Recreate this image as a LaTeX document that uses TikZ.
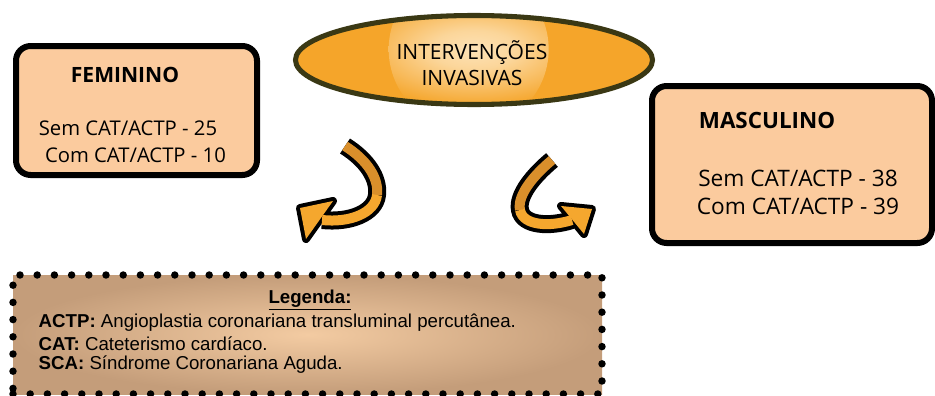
\documentclass[tikz,border=0pt]{standalone}
\usepackage{fontspec}
\setmainfont{Liberation Sans}
\newfontfamily\boxfont{Open Sans}
\usetikzlibrary{shapes.geometric}

\definecolor{peach}{HTML}{FBCB9E}
\definecolor{ovalorange}{HTML}{F5A52A}
\definecolor{ovallight}{HTML}{FDE2B6}
\definecolor{ovalrim}{HTML}{3A3814}
\definecolor{arrowdark}{HTML}{D98F2B}
\definecolor{arrowlight}{HTML}{F5A72E}
\definecolor{legtan}{HTML}{C49D7A}
\definecolor{legtanlight}{HTML}{F3CBA2}

\pgfdeclareradialshading{ovalglow}{\pgfpoint{0bp}{0bp}}{color(0bp)=(ovallight); color(6bp)=(ovallight!80!ovalorange); color(18bp)=(ovalorange); color(50bp)=(ovalorange)}

\begin{document}
\begin{tikzpicture}[x=0.75pt, y=-0.75pt,
	box/.style={draw=black, fill=peach, line width=4.5pt, rounded corners=11pt, inner sep=0pt},
	oval/.style={ellipse, draw=ovalrim, fill=ovalorange, line width=3.8pt, inner sep=0pt,
		path picture={\shade[shading=ovalglow]
			([xshift=-4pt, yshift=8pt]path picture bounding box.center) circle (80);}},
	legendbox/.style={inner color=legtanlight, outer color=legtan, draw=black, line width=5.6pt,
		line cap=round, dash pattern=on 0pt off 12.9pt, inner sep=0pt},
	boxtext/.style={font=\boxfont\fontsize{15.2}{18}\selectfont},
	bigboxtext/.style={font=\boxfont\fontsize{17}{20}\selectfont},
	legtext/.style={font=\fontsize{14}{17}\selectfont, anchor=west},
	rim/.style={draw=black, line width=13.5pt},
	rimhead/.style={draw=black, fill=black, line width=6pt, line join=round},
	bodydark/.style={draw=arrowdark, line width=7.5pt},
	bodylight/.style={draw=arrowlight, line width=7.5pt},
	headfill/.style={fill=arrowlight}]
	\useasboundingbox (0,0) rectangle (935,396);

	% boxes
	\node [box, minimum width=180.75pt, minimum height=96.75pt] (fem) at (136.5,110.5) {};
	\node [box, minimum width=210pt, minimum height=117.75pt] (masc) at (792,164.5) {};
	\node [oval, minimum width=267.75pt, minimum height=66.75pt] (inv) at (474,60) {};
	\node [legendbox, minimum width=441.75pt, minimum height=89.25pt] (leg) at (307.5,334.5) {};

	% texts
	\node [boxtext, font=\boxfont\fontsize{15.8}{18}\selectfont] (femtitle) at (125,75) {\bfseries FEMININO};
	\node [boxtext] (femsem) at (128,128) {Sem CAT/ACTP - 25};
	\node [boxtext] (femcom) at (135.5,155) {Com CAT/ACTP - 10};
	\node [bigboxtext, font=\boxfont\fontsize{16.8}{20}\selectfont] (masctitle) at (767,120) {\bfseries MASCULINO};
	\node [bigboxtext] (mascsem) at (798,178) {Sem CAT/ACTP - 38};
	\node [bigboxtext] (masccom) at (798,206) {Com CAT/ACTP - 39};
	\node [boxtext, font=\boxfont\fontsize{15.8}{19.5}\selectfont, align=center] (invtext) at (472,63)
		{INTERVENÇÕES\\INVASIVAS};
	\node [legtext, anchor=center] (legtitle) at (310,300) {\bfseries\underline{Legenda:}};
	\node [legtext] (actp) at (34,323) {\textbf{ACTP:} Angioplastia coronariana transluminal percutânea.};
	\node [legtext] (cat) at (34,344) {\textbf{CAT:} Cateterismo cardíaco.};
	\node [legtext] (sca) at (34,365) {\textbf{SCA:} Síndrome Coronariana Aguda.};

	% left arrow
	\coordinate (lt) at (345,146);
	\coordinate (lm) at (377,195);
	\coordinate (lb) at (322,220);
	\draw [rim] (lt) .. controls (367,160) and (379,178) .. (lm) .. controls (375,213) and (350,223) .. (lb);
	\draw [rimhead] (300,208) -- (333,201) -- (306,239) -- cycle;
	\draw [bodydark] (lt) .. controls (367,160) and (379,178) .. (lm);
	\draw [bodylight] (lm) .. controls (375,213) and (350,223) .. (lb);
	\fill [headfill] (300,208) -- (333,201) -- (306,239) -- cycle;

	% right arrow
	\coordinate (rt) at (552,160);
	\coordinate (rm) at (520,210);
	\coordinate (rb) at (572,220);
	\draw [rim] (rt) .. controls (534,175) and (517,195) .. (rm) .. controls (523,226) and (550,227) .. (rb);
	\draw [rimhead] (592,209) -- (561,206) -- (584,234) -- cycle;
	\draw [bodydark] (rt) .. controls (534,175) and (517,195) .. (rm);
	\draw [bodylight] (rm) .. controls (523,226) and (550,227) .. (rb);
	\fill [headfill] (592,209) -- (561,206) -- (584,234) -- cycle;
\end{tikzpicture}
\end{document}
